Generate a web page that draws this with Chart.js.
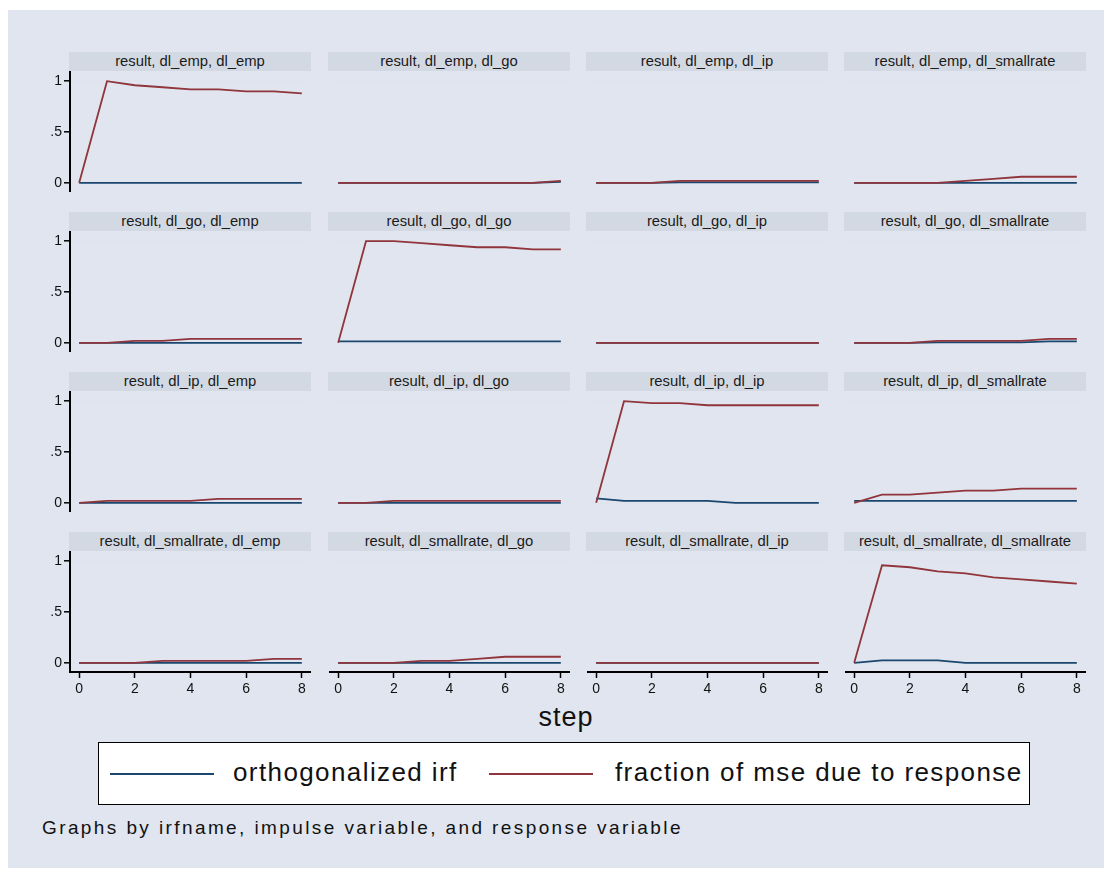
<!DOCTYPE html>
<html>
<head>
<meta charset="utf-8">
<script src="https://cdn.jsdelivr.net/npm/chart.js@4.4.1/dist/chart.umd.min.js"></script>
<style>
  body { margin: 0; background: #fff; font-family: "Liberation Sans", Arial, sans-serif; }
  #wrap { position: relative; width: 1112px; height: 870px; overflow: hidden; }
  #bg { position: absolute; left: 8px; top: 10px; width: 1096px; height: 858px; background: #e0e5ef; }
  .strip { position: absolute; height: 19px; background: #d3d9e3; font-size: 14.8px; line-height: 19px;
           text-align: center; color: #1a1a1a; white-space: nowrap; }
  .cell { position: absolute; }
  #xtitle { position: absolute; left: 0; width: 1132px; top: 702px; text-align: center; font-size: 27px;
            letter-spacing: 1px; color: #111; }
  #legend { position: absolute; left: 98px; top: 742px; width: 930px; height: 61px; background: #fff;
            border: 1.5px solid #000; }
  .lkey { position: absolute; height: 2px; top: 30px; }
  .ltxt { position: absolute; top: 14px; font-size: 26px; letter-spacing: 1.4px; color: #111; white-space: nowrap; }
  #note { position: absolute; left: 42px; top: 817px; font-size: 19px; letter-spacing: 2.4px; color: #111; white-space: nowrap; }
</style>
</head>
<body>
<div id="wrap">
  <div id="bg"></div>
  <div id="xtitle">step</div>
  <div id="legend">
    <div class="lkey" style="left:11px;width:104px;background:#1a476f"></div>
    <div class="ltxt" style="left:134px">orthogonalized irf</div>
    <div class="lkey" style="left:390px;width:104px;background:#90353b"></div>
    <div class="ltxt" style="left:516px">fraction of mse due to response</div>
  </div>
  <div id="note">Graphs by irfname, impulse variable, and response variable</div>
</div>
<script>
// variables du VAR
const impulses = ['dl_emp', 'dl_go', 'dl_ip', 'dl_smallrate'];
const responses = ['dl_emp', 'dl_go', 'dl_ip', 'dl_smallrate'];
const steps = [0, 1, 2, 3, 4, 5, 6, 7, 8];
const yTicks = [0, 0.5, 1];
const yTickLabels = ['0', '.5', '1'];
const xTicks = [0, 2, 4, 6, 8];

// orthogonalized irf, one row per response variable
const irfEmp = [
  [0, 0, 0, 0, 0, 0, 0, 0, 0],
  [0, 0, 0, 0, 0, 0, 0, 0, 0.01],
  [0, 0, 0, 0.005, 0.005, 0.005, 0.005, 0.005, 0.005],
  [0, 0, 0, 0, 0, 0, 0, 0, 0]
];
const irfGo = [
  [0, 0, 0, 0, 0, 0, 0, 0, 0],
  [0.015, 0.015, 0.015, 0.015, 0.015, 0.015, 0.015, 0.015, 0.015],
  [0, 0, 0, 0, 0, 0, 0, 0, 0],
  [0, 0, 0, 0.005, 0.005, 0.005, 0.005, 0.015, 0.015]
];
const irfIp = [
  [0, 0, 0, 0, 0, 0, 0, 0, 0],
  [0, 0, 0, 0, 0, 0, 0, 0, 0],
  [0.045, 0.02, 0.02, 0.02, 0.02, 0, 0, 0, 0],
  [0.02, 0.02, 0.02, 0.02, 0.02, 0.02, 0.02, 0.02, 0.02]
];
const irfSmallrate = [
  [0, 0, 0, 0, 0, 0, 0, 0, 0],
  [0, 0, 0, 0, 0, 0, 0, 0, 0],
  [0, 0, 0, 0, 0, 0, 0, 0, 0],
  [0, 0.025, 0.025, 0.025, 0, 0, 0, 0, 0]
];

// fraction of mse due to response
const fmseEmp = [
  [0, 1, 0.96, 0.94, 0.92, 0.92, 0.9, 0.9, 0.88],
  [0, 0, 0, 0, 0, 0, 0, 0, 0.02],
  [0, 0, 0, 0.02, 0.02, 0.02, 0.02, 0.02, 0.02],
  [0, 0, 0, 0, 0.02, 0.04, 0.06, 0.06, 0.06]
];
const fmseGo = [
  [0, 0, 0.02, 0.02, 0.04, 0.04, 0.04, 0.04, 0.04],
  [0, 1, 1, 0.98, 0.96, 0.94, 0.94, 0.92, 0.92],
  [0, 0, 0, 0, 0, 0, 0, 0, 0],
  [0, 0, 0, 0.02, 0.02, 0.02, 0.02, 0.04, 0.04]
];
const fmseIp = [
  [0, 0.02, 0.02, 0.02, 0.02, 0.04, 0.04, 0.04, 0.04],
  [0, 0, 0.02, 0.02, 0.02, 0.02, 0.02, 0.02, 0.02],
  [0, 1, 0.98, 0.98, 0.96, 0.96, 0.96, 0.96, 0.96],
  [0, 0.08, 0.08, 0.1, 0.12, 0.12, 0.14, 0.14, 0.14]
];
const fmseSmallrate = [
  [0, 0, 0, 0.02, 0.02, 0.02, 0.02, 0.04, 0.04],
  [0, 0, 0, 0.02, 0.02, 0.04, 0.06, 0.06, 0.06],
  [0, 0, 0, 0, 0, 0, 0, 0, 0],
  [0, 0.96, 0.94, 0.9, 0.88, 0.84, 0.82, 0.8, 0.78]
];

const irfByImpulse = [irfEmp, irfGo, irfIp, irfSmallrate];
const fmseByImpulse = [fmseEmp, fmseGo, fmseIp, fmseSmallrate];

// mise en page des panneaux
const colLeft = [70, 329, 587, 845];
const rowTop = [52, 212, 372, 532];
const plotW = 241, stripH = 19, plotH = 121;
const yAxisW = 40, xAxisH = 32;

const wrap = document.getElementById('wrap');

function toPoints(vals) {
  return steps.map((s, i) => ({ x: s, y: vals[i] }));
}

for (let r = 0; r < 4; r++) {
  for (let c = 0; c < 4; c++) {
    const hasY = c === 0;
    const hasX = r === 3;

    const strip = document.createElement('div');
    strip.className = 'strip';
    strip.style.left = (colLeft[c] - 1) + 'px';
    strip.style.top = rowTop[r] + 'px';
    strip.style.width = (plotW + 1) + 'px';
    strip.textContent = 'result, ' + impulses[r] + ', ' + responses[c];
    wrap.appendChild(strip);

    const cell = document.createElement('div');
    cell.className = 'cell';
    const w = plotW + (hasY ? yAxisW : 0);
    const h = plotH + (hasX ? xAxisH : 0);
    cell.style.left = (colLeft[c] - (hasY ? yAxisW : 0)) + 'px';
    cell.style.top = (rowTop[r] + stripH) + 'px';
    cell.style.width = w + 'px';
    cell.style.height = h + 'px';
    const cv = document.createElement('canvas');
    cell.appendChild(cv);
    wrap.appendChild(cell);

    new Chart(cv, {
      type: 'line',
      data: {
        datasets: [
          {
            label: 'orthogonalized irf',
            data: toPoints(irfByImpulse[r][c]),
            borderColor: '#1a476f',
            borderWidth: 1.8,
            pointRadius: 0,
            tension: 0,
            order: 1
          },
          {
            label: 'fraction of mse due to response',
            data: toPoints(fmseByImpulse[r][c]),
            borderColor: '#90353b',
            borderWidth: 1.8,
            pointRadius: 0,
            tension: 0,
            order: 0
          }
        ]
      },
      options: {
        responsive: true,
        maintainAspectRatio: false,
        animation: false,
        events: [],
        layout: { padding: 0, autoPadding: false },
        plugins: { legend: { display: false }, tooltip: { enabled: false } },
        scales: {
          x: {
            type: 'linear',
            min: -0.33,
            max: 8.33,
            display: hasX,
            afterBuildTicks: s => { s.ticks = xTicks.map(v => ({ value: v })); },
            afterFit: s => {
              s.height = hasX ? xAxisH : 0;
              s.paddingLeft = 0; s.paddingRight = 0; s.paddingTop = 0; s.paddingBottom = 0;
            },
            border: { display: true, color: '#000', width: 2 },
            grid: { drawOnChartArea: false, drawTicks: true, tickLength: 6, tickColor: '#000', tickWidth: 1.5 },
            ticks: { color: '#111', font: { size: 14, family: 'Liberation Sans' }, padding: 3, maxRotation: 0 }
          },
          y: {
            min: -0.09,
            max: 1.1,
            afterBuildTicks: s => { s.ticks = yTicks.map(v => ({ value: v })); },
            afterFit: s => {
              s.width = hasY ? yAxisW : 0;
              s.paddingLeft = 0; s.paddingRight = 0; s.paddingTop = 0; s.paddingBottom = 0;
            },
            border: { display: hasY, color: '#000', width: 2 },
            grid: { color: '#dfe4ee', lineWidth: 1.6, drawTicks: hasY, tickLength: 6, tickColor: '#000', tickWidth: 1.5 },
            ticks: {
              display: hasY,
              color: '#111',
              font: { size: 14, family: 'Liberation Sans' },
              padding: 2,
              callback: v => yTickLabels[yTicks.indexOf(v)]
            }
          }
        }
      }
    });
  }
}
</script>
</body>
</html>
